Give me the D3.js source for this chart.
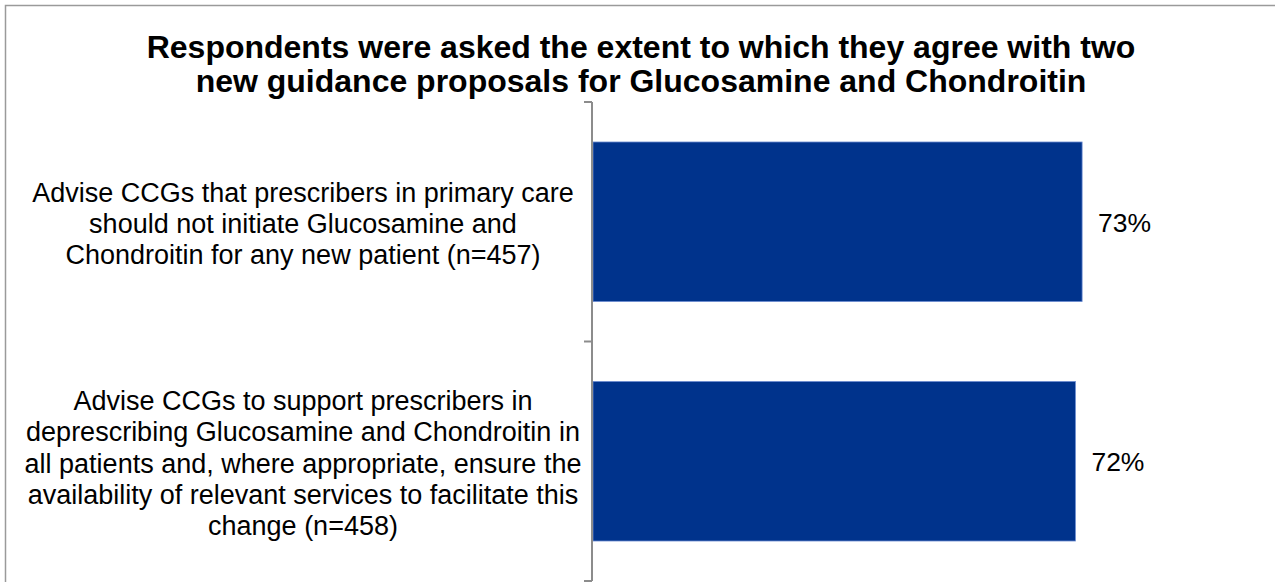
<!DOCTYPE html>
<html>
<head>
<meta charset="utf-8">
<script src="https://cdn.jsdelivr.net/npm/d3@7"></script>
<style>
  html, body { margin: 0; padding: 0; background: #fff; }
  svg { display: block; font-family: "Liberation Sans", Arial, sans-serif; }
</style>
</head>
<body>
<svg width="1275" height="582"></svg>
<script>
// chart data
var titleLines = ["Respondents were asked the extent to which they agree with two",
                  "new guidance proposals for Glucosamine and Chondroitin"];
var categories = ["q1", "q2"];
var categoryLabels = [
    ["Advise CCGs that prescribers in primary care",
     "should not initiate Glucosamine and",
     "Chondroitin for any new patient (n=457)"],
    ["Advise CCGs to support prescribers in",
     "deprescribing Glucosamine and Chondroitin in",
     "all patients and, where appropriate, ensure the",
     "availability of relevant services to facilitate this",
     "change (n=458)"]
];
var values = [73, 72];

var svg = d3.select("svg");

// outer frame (runs off the right and bottom)
svg.append("rect")
    .attr("x", 5.5).attr("y", 5.5)
    .attr("width", 1300).attr("height", 600)
    .attr("fill", "none")
    .attr("stroke", "#9a9a9a")
    .attr("stroke-width", 1.5);

// title
svg.append("text")
    .attr("x", 641).attr("y", 57.5)
    .attr("text-anchor", "middle")
    .style("font-size", "32px")
    .style("font-weight", "bold")
    .selectAll("tspan")
    .data(titleLines)
    .enter().append("tspan")
    .attr("x", 641)
    .attr("dy", function (d, i) { return i === 0 ? 0 : 34; })
    .text(function (d) { return d; });

var x = d3.scaleLinear().domain([0, 100]).range([593, 1263]);
var y = d3.scaleBand().domain(categories).range([102, 581])
    .paddingInner(0.334).paddingOuter(0.167);

// bars
svg.append("g")
    .selectAll("rect")
    .data(values)
    .enter().append("rect")
    .attr("x", x(0))
    .attr("y", function (d, i) { return y(categories[i]); })
    .attr("width", function (d) { return x(d) - x(0); })
    .attr("height", y.bandwidth())
    .attr("fill", "#00338c")
    .attr("stroke", "#6a8bd0")
    .attr("stroke-width", 0.8);

// value labels
svg.append("g")
    .selectAll("text")
    .data(values)
    .enter().append("text")
    .attr("x", function (d) { return x(d) + 16; })
    .attr("y", function (d, i) { return y(categories[i]) + y.bandwidth() / 2; })
    .attr("dy", "0.38em")
    .style("font-size", "26.5px")
    .text(function (d) { return d + "%"; });

// axis line with ticks on band edges
var axis = svg.append("g").attr("stroke", "#8c8c8c").attr("stroke-width", 2);
var y0 = y.range()[0], y1 = y.range()[1];
axis.append("line")
    .attr("x1", 592).attr("x2", 592)
    .attr("y1", y0).attr("y2", y1);
axis.selectAll(".tick")
    .data(d3.range(categories.length + 1))
    .enter().append("line")
    .attr("class", "tick")
    .attr("x1", 584).attr("x2", 592)
    .attr("y1", function (i) { return y0 + i * y.step(); })
    .attr("y2", function (i) { return y0 + i * y.step(); });

// category labels
var lineH = 31.3;
svg.append("g")
    .selectAll("text")
    .data(categoryLabels)
    .enter().append("text")
    .attr("text-anchor", "middle")
    .style("font-size", "27px")
    .attr("y", function (d, i) {
        var c = y(categories[i]) + y.bandwidth() / 2;
        return c - (d.length - 1) / 2 * lineH;
    })
    .each(function (lines) {
        var t = d3.select(this), top = +t.attr("y");
        t.selectAll("tspan")
            .data(lines)
            .enter().append("tspan")
            .attr("x", 303)
            .attr("y", function (d, j) { return top + j * lineH; })
            .attr("dy", "0.42em")
            .text(function (d) { return d; });
    });
</script>
</body>
</html>
